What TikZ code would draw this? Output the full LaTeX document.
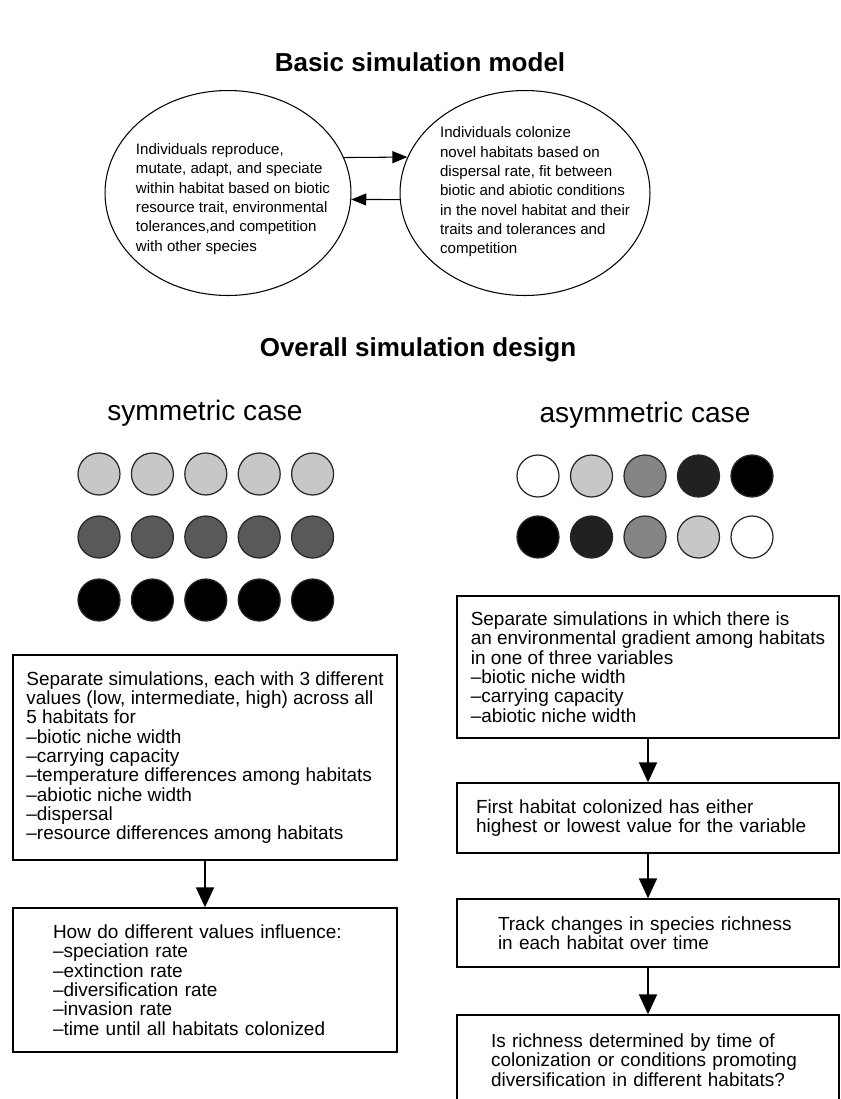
\documentclass[tikz,border=0pt]{standalone}
\usepackage{fontspec}
\setmainfont{Liberation Sans}
\usetikzlibrary{shapes.geometric,arrows.meta}
\tikzset{blob/.style={ellipse,draw,line width=0.6pt,inner sep=0pt,minimum height=4.1cm}}
\tikzset{blobtxt/.style={align=left,inner sep=0pt,font=\fontsize{8.6}{11}\selectfont}}
\tikzset{box/.style={rectangle,draw,line width=0.8pt,inner sep=0pt,align=left,font=\fontsize{10.8}{11}\selectfont}}
\tikzset{dot/.style={circle,draw=black!85,line width=0.7pt,minimum size=0.84cm,inner sep=0pt}}
\tikzset{hd/.style={font=\fontsize{14.8}{16}\selectfont\bfseries}}
\tikzset{case/.style={font=\fontsize{16}{18}\selectfont}}
\tikzset{flow/.style={-{Triangle[length=0.4cm,width=0.36cm]},line width=1.1pt}}
\tikzset{swap/.style={-{Triangle[length=0.3cm,width=0.24cm]},line width=0.6pt}}

\begin{document}
\begin{tikzpicture}[x=0.02cm,y=-0.02cm]
  \useasboundingbox (0,0) rectangle (841,1099);
  % basic model
  \node[hd] (basic) at (420,62) {Basic simulation model};
  \node[blob,minimum width=4.92cm] (within) at (228,193) {};
  \node[blob,minimum width=5.0cm] (colon) at (525,193) {};
  \node[blobtxt] (withintxt) at (233,199) {Individuals reproduce,\\mutate, adapt, and speciate\\within habitat based on biotic\\resource trait, environmental\\tolerances,and competition\\with other species};
  \node[blobtxt] (colontxt) at (535,192) {Individuals colonize\\novel habitats based on\\dispersal rate, fit between\\biotic and abiotic conditions\\in the novel habitat and their\\traits and tolerances and\\competition};
  \draw[swap] (within.17) -- (colon.163);
  \draw[swap] (colon.183) -- (within.-3);

  % overall design
  \node[hd] (overall) at (418,350) {Overall simulation design};
  \node[case] (sym) at (205,413) {symmetric case};
  \node[case] (asym) at (645,415) {asymmetric case};
  \foreach \i in {0,...,4} {
    \node[dot,fill=black!22] (lo\i) at (99+53.4*\i,474) {};
    \node[dot,fill=black!65] (mid\i) at (99+53.4*\i,537) {};
    \node[dot,fill=black] (hi\i) at (99+53.4*\i,600) {};
  }
  \foreach \c [count=\i from 0] in {white,black!22,black!48,black!87,black}
    \node[dot,fill=\c] (up\i) at (538+53.5*\i,476) {};
  \foreach \c [count=\i from 0] in {black,black!87,black!48,black!22,white}
    \node[dot,fill=\c] (dn\i) at (538+53.5*\i,537) {};

  % symmetric boxes
  \node[box,minimum width=7.68cm,minimum height=4.1cm] (sep) at (205,757.5) {Separate simulations, each with 3 different\\values (low, intermediate, high) across all\\5 habitats for\\–biotic niche width\\–carrying capacity\\–temperature differences among habitats\\–abiotic niche width\\–dispersal\\–resource differences among habitats};
  \node[box,text width=6.08cm,minimum width=7.68cm,minimum height=2.88cm] (how) at (205,980) {How do different values influence:\\–speciation rate\\–extinction rate\\–diversification rate\\–invasion rate\\–time until all habitats colonized};
  \draw[flow] (sep) -- (how);

  % asymmetric boxes
  \node[box,minimum width=7.64cm,minimum height=2.84cm] (grad) at (648,667) {Separate simulations in which there is\\an environmental gradient among habitats\\in one of three variables\\–biotic niche width\\–carrying capacity\\–abiotic niche width};
  \node[box,text width=6.88cm,minimum width=7.64cm,minimum height=1.4cm] (first) at (648,818) {First habitat colonized has either\\highest or lowest value for the variable};
  \node[box,text width=6.0cm,minimum width=7.64cm,minimum height=1.36cm] (track) at (648,933) {Track changes in species richness\\in each habitat over time};
  \node[box,text width=6.28cm,minimum width=7.64cm,minimum height=1.8cm] (rich) at (648,1060) {Is richness determined by time of\\colonization or conditions promoting\\diversification in different habitats?};
  \draw[flow] (grad) -- (first);
  \draw[flow] (first) -- (track);
  \draw[flow] (track) -- (rich);
\end{tikzpicture}
\end{document}
